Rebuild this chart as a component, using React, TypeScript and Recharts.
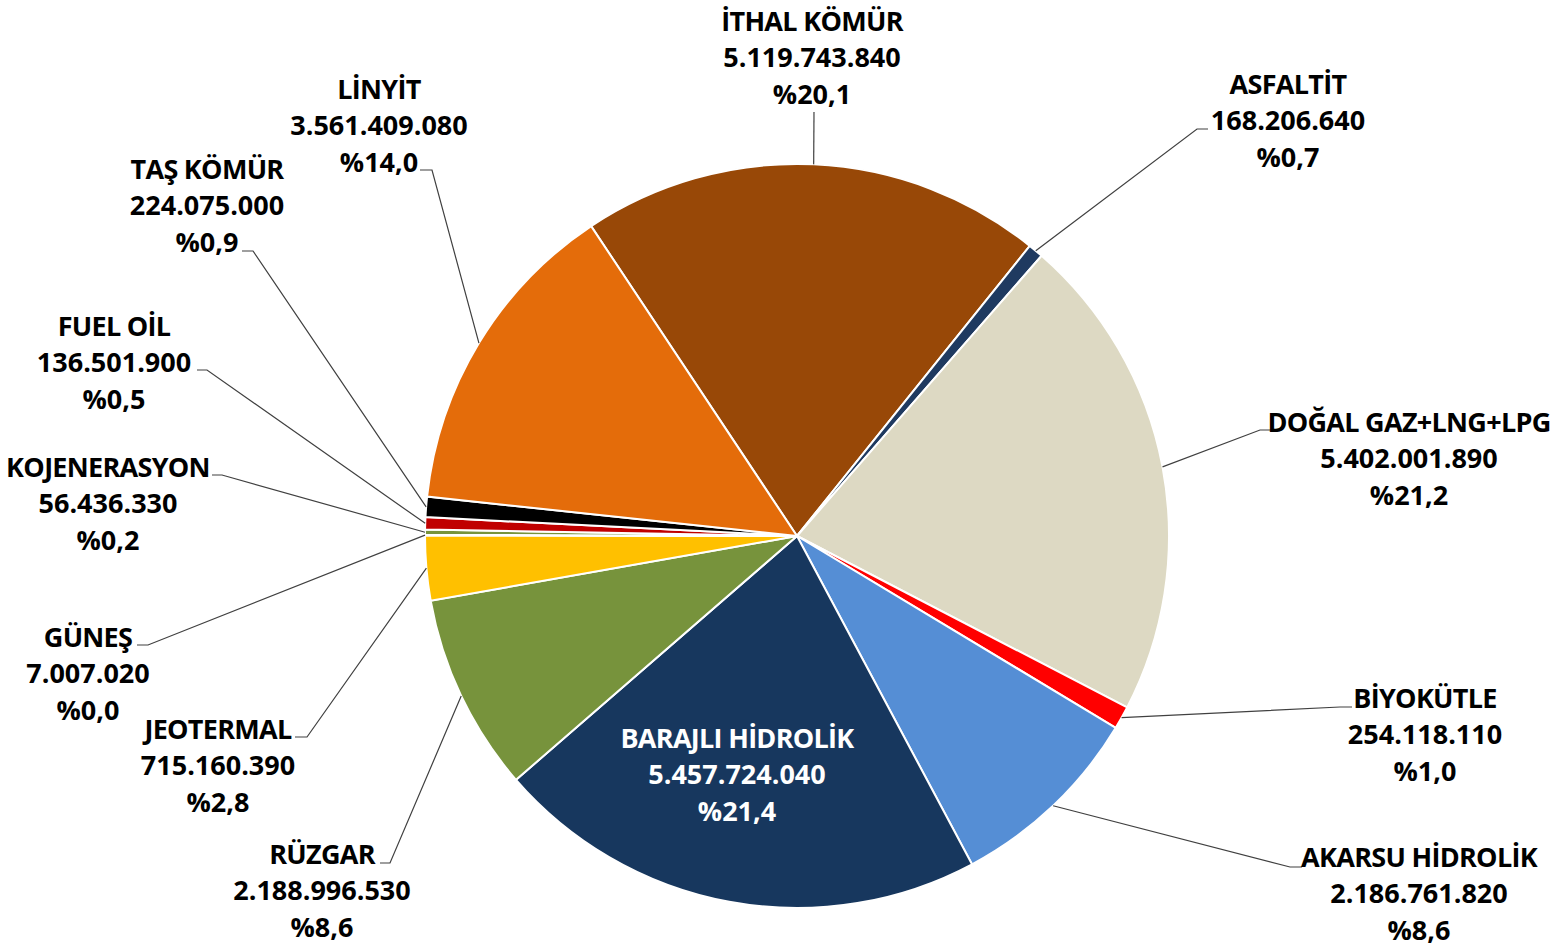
import React from 'react';
import { PieChart, Pie, Cell } from 'recharts';

const categories = [
  'İTHAL KÖMÜR',
  'ASFALTİT',
  'DOĞAL GAZ+LNG+LPG',
  'BİYOKÜTLE',
  'AKARSU HİDROLİK',
  'BARAJLI HİDROLİK',
  'RÜZGAR',
  'JEOTERMAL',
  'GÜNEŞ',
  'KOJENERASYON',
  'FUEL OİL',
  'TAŞ KÖMÜR',
  'LİNYİT',
];

const values = [
  5119743840, 168206640, 5402001890, 254118110, 2186761820, 5457724040,
  2188996530, 715160390, 7007020, 56436330, 136501900, 224075000, 3561409080,
];

const colors = [
  '#984807', '#1F3A60', '#DDD9C3', '#FF0000', '#558ED5', '#17375E',
  '#77933C', '#FFC000', '#A6A6A6', '#77933C', '#C00000', '#000000', '#E46C0A',
];

// label layout relative to the pie centre: text centre x, first line centre y,
// leader elbow (ex, ey) and stub end (hx, hy); inside = label drawn on the slice
const labelLayout = [
  { tx: 15, ty: -515, ex: 17, ey: -424, hx: 17, hy: -424 },
  { tx: 491, ty: -452, ex: 400, ey: -407, hx: 411, hy: -407 },
  { tx: 612, ty: -114, ex: 463, ey: -106, hx: 475, hy: -106 },
  { tx: 628, ty: 162, ex: 543, ey: 171, hx: 555, hy: 171 },
  { tx: 622, ty: 321, ex: 493, ey: 331, hx: 505, hy: 331 },
  { tx: -60, ty: 202, inside: true },
  { tx: -475, ty: 318, ex: -407, ey: 327, hx: -417, hy: 327 },
  { tx: -579, ty: 193, ex: -490, ey: 201, hx: -502, hy: 201 },
  { tx: -709, ty: 101, ex: -649, ey: 109, hx: -660, hy: 109 },
  { tx: -689, ty: -69, ex: -575, ey: -61, hx: -585, hy: -61 },
  { tx: -683, ty: -210, ex: -590, ey: -166, hx: -600, hy: -166 },
  { tx: -590, ty: -367, ex: -544, ey: -285, hx: -555, hy: -285 },
  { tx: -418, ty: -447, ex: -365, ey: -366, hx: -377, hy: -366 },
];

const total = values.reduce((a, b) => a + b, 0);
const data = categories.map((name, i) => ({ name, value: values[i] }));

const fmtNum = (v: number) => String(v).replace(/\B(?=(\d{3})+(?!\d))/g, '.');
const fmtPct = (v: number) => '%' + ((v / total) * 100).toFixed(1).replace('.', ',');

const FONT = '"Open Sans", sans-serif';
const FS = 27;
const LINE = 36.5;
const BASE = 9.6;

const renderLabel = (props: any) => {
  const { cx, cy, midAngle, outerRadius, index } = props;
  const L: any = labelLayout[index];
  const RAD = Math.PI / 180;
  const sx = cx + outerRadius * Math.cos(-midAngle * RAD);
  const sy = cy + outerRadius * Math.sin(-midAngle * RAD);
  const lines = [categories[index], fmtNum(values[index]), fmtPct(values[index])];
  return (
    <g key={`lbl-${index}`}>
      {!L.inside && (
        <polyline
          points={`${sx},${sy} ${cx + L.ex},${cy + L.ey} ${cx + L.hx},${cy + L.hy}`}
          fill="none"
          stroke="#404040"
          strokeWidth={1.2}
        />
      )}
      <text
        textAnchor="middle"
        fill={L.inside ? '#FFFFFF' : '#000000'}
        fontFamily={FONT}
        fontWeight={700}
        fontSize={FS}
      >
        {lines.map((t, k) => (
          <tspan
            key={k}
            x={cx + L.tx}
            y={cy + L.ty + k * LINE + BASE}
            letterSpacing={k === 0 ? -0.7 : 0}
          >
            {t}
          </tspan>
        ))}
      </text>
    </g>
  );
};

export default function App() {
  return (
    <div style={{ position: 'absolute', left: 0, top: 0, width: 1564, height: 950, background: '#FFFFFF' }}>
      <PieChart width={1564} height={950} margin={{ top: 0, right: 0, bottom: 0, left: 0 }}>
        <Pie
          data={data}
          dataKey="value"
          nameKey="name"
          cx={797}
          cy={536}
          outerRadius={372}
          startAngle={123.6}
          endAngle={-236.4}
          stroke="#FFFFFF"
          strokeWidth={2}
          label={renderLabel}
          labelLine={false}
          isAnimationActive={false}
        >
          {data.map((d, i) => (
            <Cell key={d.name} fill={colors[i]} />
          ))}
        </Pie>
      </PieChart>
    </div>
  );
}
